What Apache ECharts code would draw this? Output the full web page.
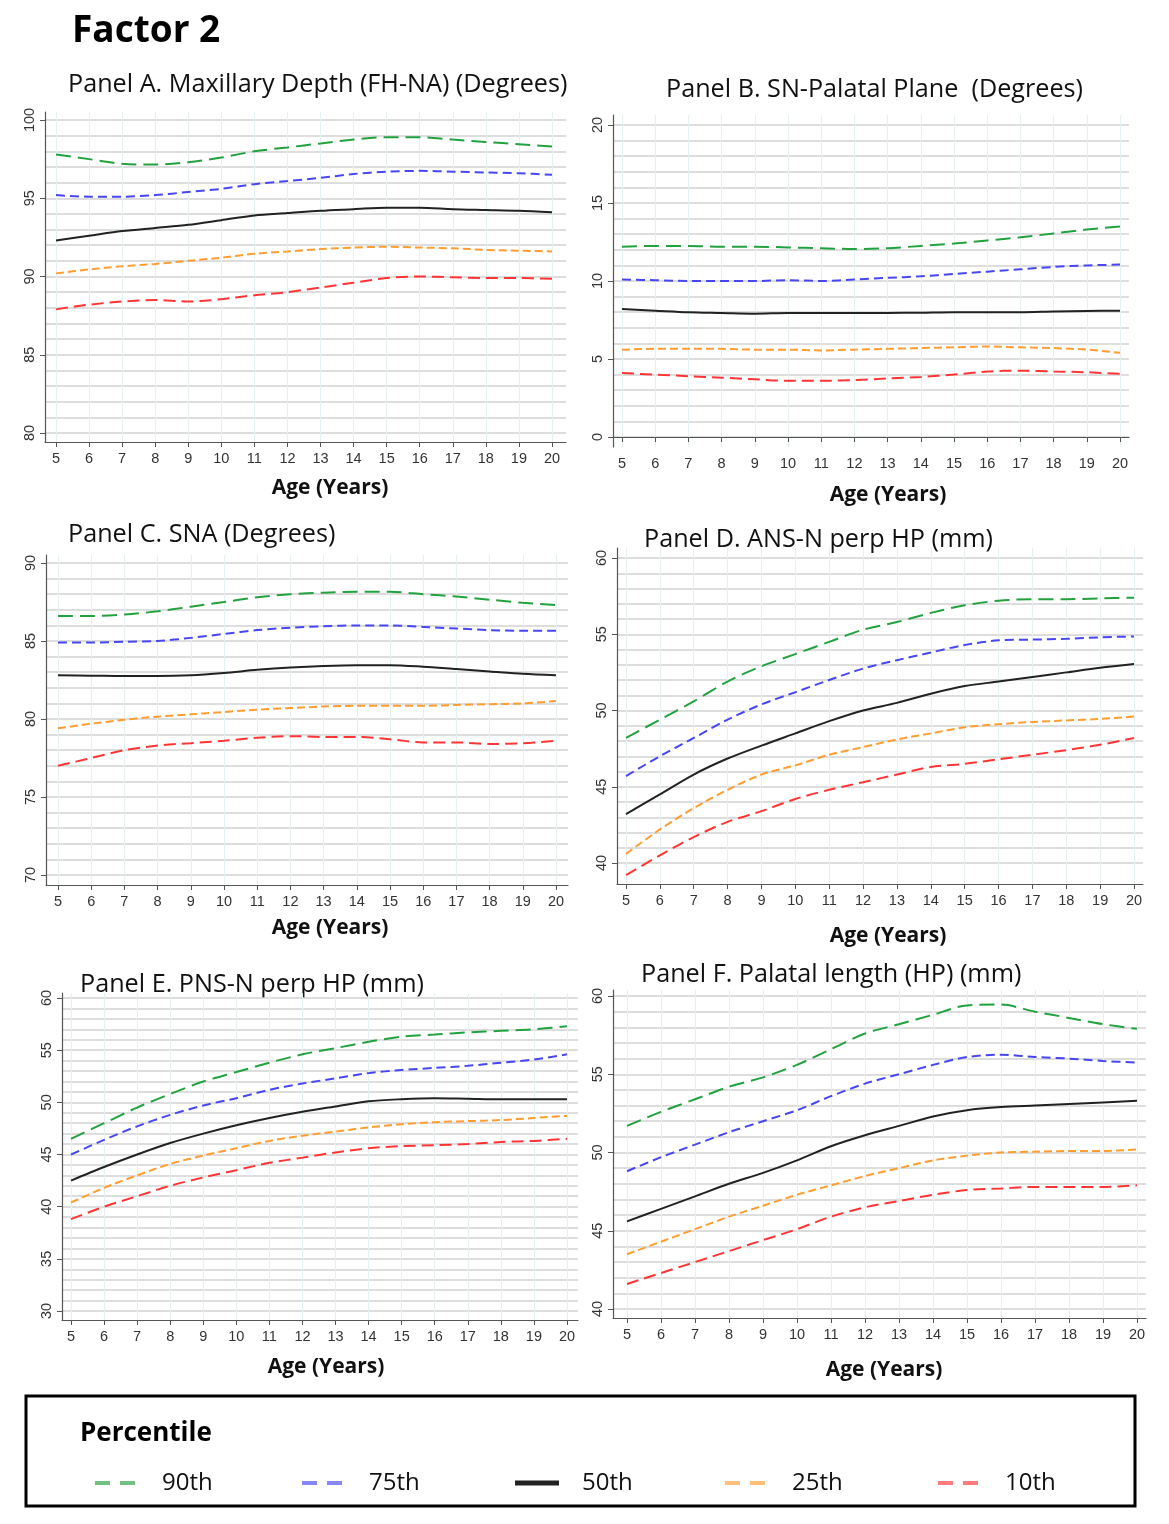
<!DOCTYPE html>
<html>
<head>
<meta charset="utf-8">
<script src="https://cdn.jsdelivr.net/npm/echarts@6/dist/echarts.min.js"></script>
<style>
  html, body { margin: 0; padding: 0; background: #fff; }
  #main { width: 1169px; height: 1524px; }
</style>
</head>
<body>
<div id="main"></div>
<script>
// ages on the x axis
var ages = [5, 6, 7, 8, 9, 10, 11, 12, 13, 14, 15, 16, 17, 18, 19, 20]
var pctNames = ['90th', '75th', '50th', '25th', '10th']

// Panel A. Maxillary Depth (FH-NA)
var a90 = [97.8, 97.5, 97.2, 97.15, 97.3, 97.6, 98.0, 98.25, 98.5, 98.75, 98.9, 98.9, 98.75, 98.6, 98.45, 98.3]
var a75 = [95.2, 95.1, 95.1, 95.2, 95.4, 95.6, 95.9, 96.1, 96.3, 96.55, 96.7, 96.75, 96.7, 96.65, 96.6, 96.5]
var a50 = [92.3, 92.6, 92.9, 93.1, 93.3, 93.6, 93.9, 94.05, 94.2, 94.3, 94.4, 94.4, 94.3, 94.25, 94.2, 94.1]
var a25 = [90.2, 90.45, 90.65, 90.8, 91.0, 91.2, 91.45, 91.6, 91.75, 91.85, 91.9, 91.85, 91.8, 91.7, 91.65, 91.6]
var a10 = [87.9, 88.2, 88.4, 88.5, 88.4, 88.55, 88.8, 89.0, 89.3, 89.6, 89.9, 90.0, 89.95, 89.9, 89.9, 89.85]

// Panel B. SN-Palatal Plane
var b90 = [12.2, 12.25, 12.25, 12.2, 12.2, 12.15, 12.1, 12.05, 12.1, 12.25, 12.4, 12.6, 12.8, 13.05, 13.3, 13.5]
var b75 = [10.1, 10.05, 10.0, 10.0, 10.0, 10.05, 10.0, 10.1, 10.2, 10.3, 10.45, 10.6, 10.75, 10.9, 11.0, 11.05]
var b50 = [8.2, 8.1, 8.0, 7.95, 7.9, 7.95, 7.95, 7.95, 7.95, 7.97, 8.0, 8.0, 8.0, 8.05, 8.08, 8.1]
var b25 = [5.6, 5.65, 5.65, 5.65, 5.6, 5.6, 5.55, 5.6, 5.65, 5.7, 5.75, 5.8, 5.75, 5.7, 5.6, 5.4]
var b10 = [4.1, 4.0, 3.9, 3.8, 3.7, 3.6, 3.6, 3.65, 3.75, 3.85, 4.0, 4.2, 4.25, 4.2, 4.15, 4.05]

// Panel C. SNA
var c90 = [86.6, 86.6, 86.7, 86.9, 87.2, 87.5, 87.8, 88.0, 88.1, 88.15, 88.15, 88.0, 87.85, 87.65, 87.45, 87.3]
var c75 = [84.9, 84.9, 84.95, 85.0, 85.2, 85.45, 85.7, 85.85, 85.95, 86.0, 86.0, 85.9, 85.8, 85.7, 85.65, 85.65]
var c50 = [82.8, 82.78, 82.75, 82.75, 82.8, 82.95, 83.15, 83.3, 83.4, 83.45, 83.45, 83.35, 83.2, 83.05, 82.9, 82.8]
var c25 = [79.4, 79.7, 79.95, 80.15, 80.3, 80.45, 80.6, 80.7, 80.8, 80.85, 80.85, 80.85, 80.9, 80.95, 81.0, 81.15]
var c10 = [77.0, 77.5, 78.0, 78.3, 78.45, 78.6, 78.8, 78.9, 78.85, 78.85, 78.7, 78.5, 78.5, 78.4, 78.45, 78.6]

// Panel D. ANS-N perp HP
var d90 = [48.2, 49.4, 50.6, 51.9, 52.9, 53.7, 54.5, 55.3, 55.8, 56.4, 56.9, 57.2, 57.3, 57.3, 57.35, 57.4]
var d75 = [45.7, 47.0, 48.2, 49.4, 50.4, 51.2, 52.0, 52.75, 53.3, 53.8, 54.3, 54.6, 54.65, 54.7, 54.8, 54.85]
var d50 = [43.2, 44.5, 45.8, 46.85, 47.7, 48.5, 49.3, 50.0, 50.5, 51.1, 51.6, 51.9, 52.2, 52.5, 52.8, 53.05]
var d25 = [40.6, 42.2, 43.6, 44.8, 45.8, 46.4, 47.1, 47.6, 48.1, 48.5, 48.9, 49.1, 49.25, 49.35, 49.45, 49.6]
var d10 = [39.2, 40.5, 41.7, 42.7, 43.4, 44.2, 44.8, 45.3, 45.8, 46.3, 46.5, 46.8, 47.1, 47.4, 47.75, 48.2]

// Panel E. PNS-N perp HP
var e90 = [46.5, 48.0, 49.5, 50.8, 52.0, 52.9, 53.8, 54.6, 55.2, 55.8, 56.3, 56.5, 56.7, 56.85, 57.0, 57.3]
var e75 = [45.0, 46.4, 47.7, 48.8, 49.7, 50.4, 51.2, 51.8, 52.3, 52.8, 53.1, 53.3, 53.5, 53.8, 54.1, 54.6]
var e50 = [42.5, 43.8, 45.0, 46.1, 47.0, 47.8, 48.5, 49.1, 49.6, 50.1, 50.3, 50.4, 50.35, 50.3, 50.3, 50.3]
var e25 = [40.4, 41.8, 43.0, 44.1, 44.9, 45.6, 46.3, 46.8, 47.2, 47.6, 47.9, 48.1, 48.2, 48.3, 48.5, 48.7]
var e10 = [38.8, 40.0, 41.0, 42.0, 42.8, 43.5, 44.2, 44.7, 45.2, 45.6, 45.8, 45.9, 46.0, 46.2, 46.3, 46.5]

// Panel F. Palatal length (HP)
var f90 = [51.7, 52.6, 53.4, 54.2, 54.8, 55.6, 56.6, 57.6, 58.2, 58.8, 59.4, 59.45, 59.0, 58.6, 58.2, 57.9]
var f75 = [48.8, 49.7, 50.5, 51.3, 52.0, 52.7, 53.6, 54.4, 55.0, 55.6, 56.1, 56.25, 56.1, 56.0, 55.85, 55.75]
var f50 = [45.6, 46.4, 47.2, 48.0, 48.7, 49.5, 50.4, 51.1, 51.7, 52.3, 52.7, 52.9, 53.0, 53.1, 53.2, 53.3]
var f25 = [43.5, 44.3, 45.1, 45.9, 46.6, 47.3, 47.9, 48.5, 49.0, 49.5, 49.8, 50.0, 50.05, 50.1, 50.1, 50.2]
var f10 = [41.6, 42.3, 43.0, 43.7, 44.4, 45.1, 45.9, 46.5, 46.9, 47.3, 47.6, 47.7, 47.8, 47.8, 47.8, 47.9]

// y tick labels
var ticksA = [80, 85, 90, 95, 100]
var ticksB = [0, 5, 10, 15, 20]
var ticksC = [70, 75, 80, 85, 90]
var ticksD = [40, 45, 50, 55, 60]
var ticksE = [30, 35, 40, 45, 50, 55, 60]
var ticksF = [40, 45, 50, 55, 60]

var panelTitles = [
  'Panel A. Maxillary Depth (FH-NA) (Degrees)',
  'Panel B. SN-Palatal Plane  (Degrees)',
  'Panel C. SNA (Degrees)',
  'Panel D. ANS-N perp HP (mm)',
  'Panel E. PNS-N perp HP (mm)',
  'Panel F. Palatal length (HP) (mm)'
]

var panelData = [
  [a90, a75, a50, a25, a10],
  [b90, b75, b50, b25, b10],
  [c90, c75, c50, c25, c10],
  [d90, d75, d50, d25, d10],
  [e90, e75, e50, e25, e10],
  [f90, f75, f50, f25, f10]
]
var panelTicks = [ticksA, ticksB, ticksC, ticksD, ticksE, ticksF]

// layout: grid box in px, pixel of x=5 / x=20, pixel of top / bottom y tick
var layout = [
  { l: 45, r: 566, t: 112, b: 442, x5: 56, x20: 552, yHi: 120, yLo: 433, title: [68, 85], age: [330, 488] },
  { l: 613, r: 1129, t: 115, b: 447, x5: 622, x20: 1120, yHi: 125, yLo: 437, title: [666, 90], age: [888, 495] },
  { l: 46, r: 568, t: 555, b: 885, x5: 58, x20: 556, yHi: 563, yLo: 875, title: [68, 535], age: [330, 928] },
  { l: 617, r: 1143, t: 548, b: 884, x5: 626, x20: 1134, yHi: 558, yLo: 863, title: [644, 540], age: [888, 936] },
  { l: 62, r: 578, t: 993, b: 1320, x5: 71, x20: 567, yHi: 998, yLo: 1311, title: [80, 985], age: [326, 1367] },
  { l: 613, r: 1146, t: 990, b: 1318, x5: 627, x20: 1137, yHi: 996, yLo: 1309, title: [641, 975], age: [884, 1370] }
]

var lineStyles = [
  { color: '#22a23f', type: [15, 7], width: 2 },
  { color: '#4646f2', type: [9, 5], width: 2 },
  { color: '#222222', type: 'solid', width: 2 },
  { color: '#ff9d33', type: [8, 4], width: 2 },
  { color: '#ff3535', type: [12, 6], width: 2 }
]

// legend icons: two dashes, or one bar for the median
var dashIcon = 'path://M0,0h15v4h-15z M25,0h15v4h-15z'
var solidIcon = 'path://M0,0h44v5h-44z'

function lerp (p0, v0, p1, v1, p) {
  return v0 + (p - p0) * (v1 - v0) / (p1 - p0)
}

function intRange (a, b) {
  var out = []
  for (var v = a; v <= b; v++) out.push(v)
  return out
}

var chart = echarts.init(document.getElementById('main'))

var grids = []
var xAxes = []
var yAxes = []
var series = []
var graphics = []

var labelFont = 'Liberation Sans, Arial, sans-serif'

layout.forEach(function (L, i) {
  var ticks = panelTicks[i]
  var yTop = ticks[ticks.length - 1]
  var yBot = ticks[0]
  grids.push({ left: L.l, top: L.t, width: L.r - L.l, height: L.b - L.t })

  xAxes.push({
    type: 'value',
    gridIndex: i,
    min: lerp(L.x5, 5, L.x20, 20, L.l),
    max: lerp(L.x5, 5, L.x20, 20, L.r),
    axisLine: { show: true, lineStyle: { color: '#555', width: 1.2 } },
    axisTick: { show: true, length: 5, customValues: ages, lineStyle: { color: '#555' } },
    axisLabel: { customValues: ages, margin: 9, fontSize: 14.5, color: '#333', fontFamily: labelFont },
    splitLine: { show: true, lineStyle: { color: '#e4f0f2', width: 1 } }
  })

  var ymin = lerp(L.yHi, yTop, L.yLo, yBot, L.b)
  var ymax = lerp(L.yHi, yTop, L.yLo, yBot, L.t)

  // labelled axis
  yAxes.push({
    type: 'value',
    gridIndex: i,
    min: ymin,
    max: ymax,
    axisLine: { show: true, lineStyle: { color: '#555', width: 1.2 } },
    axisTick: { show: true, length: 5, customValues: ticks, lineStyle: { color: '#555' } },
    axisLabel: { customValues: ticks, rotate: 90, margin: 8, fontSize: 14.5, color: '#333', fontFamily: labelFont },
    splitLine: { show: false }
  })
  // horizontal grid lines every unit
  yAxes.push({
    type: 'value',
    gridIndex: i,
    min: ymin,
    max: ymax,
    axisLine: { show: false },
    axisTick: { show: false, customValues: intRange(yBot, yTop) },
    axisLabel: { show: false },
    splitLine: { show: true, lineStyle: { color: '#d2d2d2', width: 1.6 } }
  })

  panelData[i].forEach(function (arr, j) {
    series.push({
      type: 'line',
      name: pctNames[j],
      xAxisIndex: i,
      yAxisIndex: i * 2,
      data: ages.map(function (a, k) { return [a, arr[k]] }),
      smooth: 0.3,
      symbol: 'none',
      lineStyle: lineStyles[j],
      itemStyle: { color: lineStyles[j].color },
      z: 5 - j
    })
  })

  graphics.push({
    type: 'text',
    x: L.title[0],
    y: L.title[1],
    style: { text: panelTitles[i], font: '25.2px "Open Sans", sans-serif', fill: '#111', textVerticalAlign: 'middle' }
  })
  graphics.push({
    type: 'text',
    x: L.age[0],
    y: L.age[1],
    style: { text: 'Age (Years)', font: 'bold 21px "Open Sans", sans-serif', fill: '#111', textAlign: 'center', textVerticalAlign: 'middle' }
  })
})

graphics.push({
  type: 'text',
  x: 72,
  y: 31,
  style: { text: 'Factor 2', font: 'bold 37px "Open Sans", sans-serif', fill: '#000', textVerticalAlign: 'middle' }
})
graphics.push({
  type: 'rect',
  shape: { x: 26, y: 1396, width: 1109, height: 110 },
  style: { fill: 'none', stroke: '#000', lineWidth: 3 }
})
graphics.push({
  type: 'text',
  x: 80,
  y: 1434,
  style: { text: 'Percentile', font: 'bold 26px "Open Sans", sans-serif', fill: '#000', textVerticalAlign: 'middle' }
})

var legendLefts = [90, 297, 510, 720, 933]
var legends = pctNames.map(function (name, j) {
  return {
    data: [name],
    left: legendLefts[j],
    top: 1466,
    icon: j === 2 ? solidIcon : dashIcon,
    itemWidth: j === 2 ? 44 : 40,
    itemHeight: j === 2 ? 5 : 4,
    selectedMode: false,
    itemStyle: { opacity: j === 2 ? 1 : 0.65 },
    textStyle: { fontSize: 24, fontFamily: '"Open Sans", sans-serif', color: '#111', padding: [0, 0, 0, j === 2 ? 18 : 22] }
  }
})

chart.setOption({
  backgroundColor: '#fff',
  animation: false,
  grid: grids,
  xAxis: xAxes,
  yAxis: yAxes,
  legend: legends,
  series: series,
  graphic: graphics
})
</script>
</body>
</html>
